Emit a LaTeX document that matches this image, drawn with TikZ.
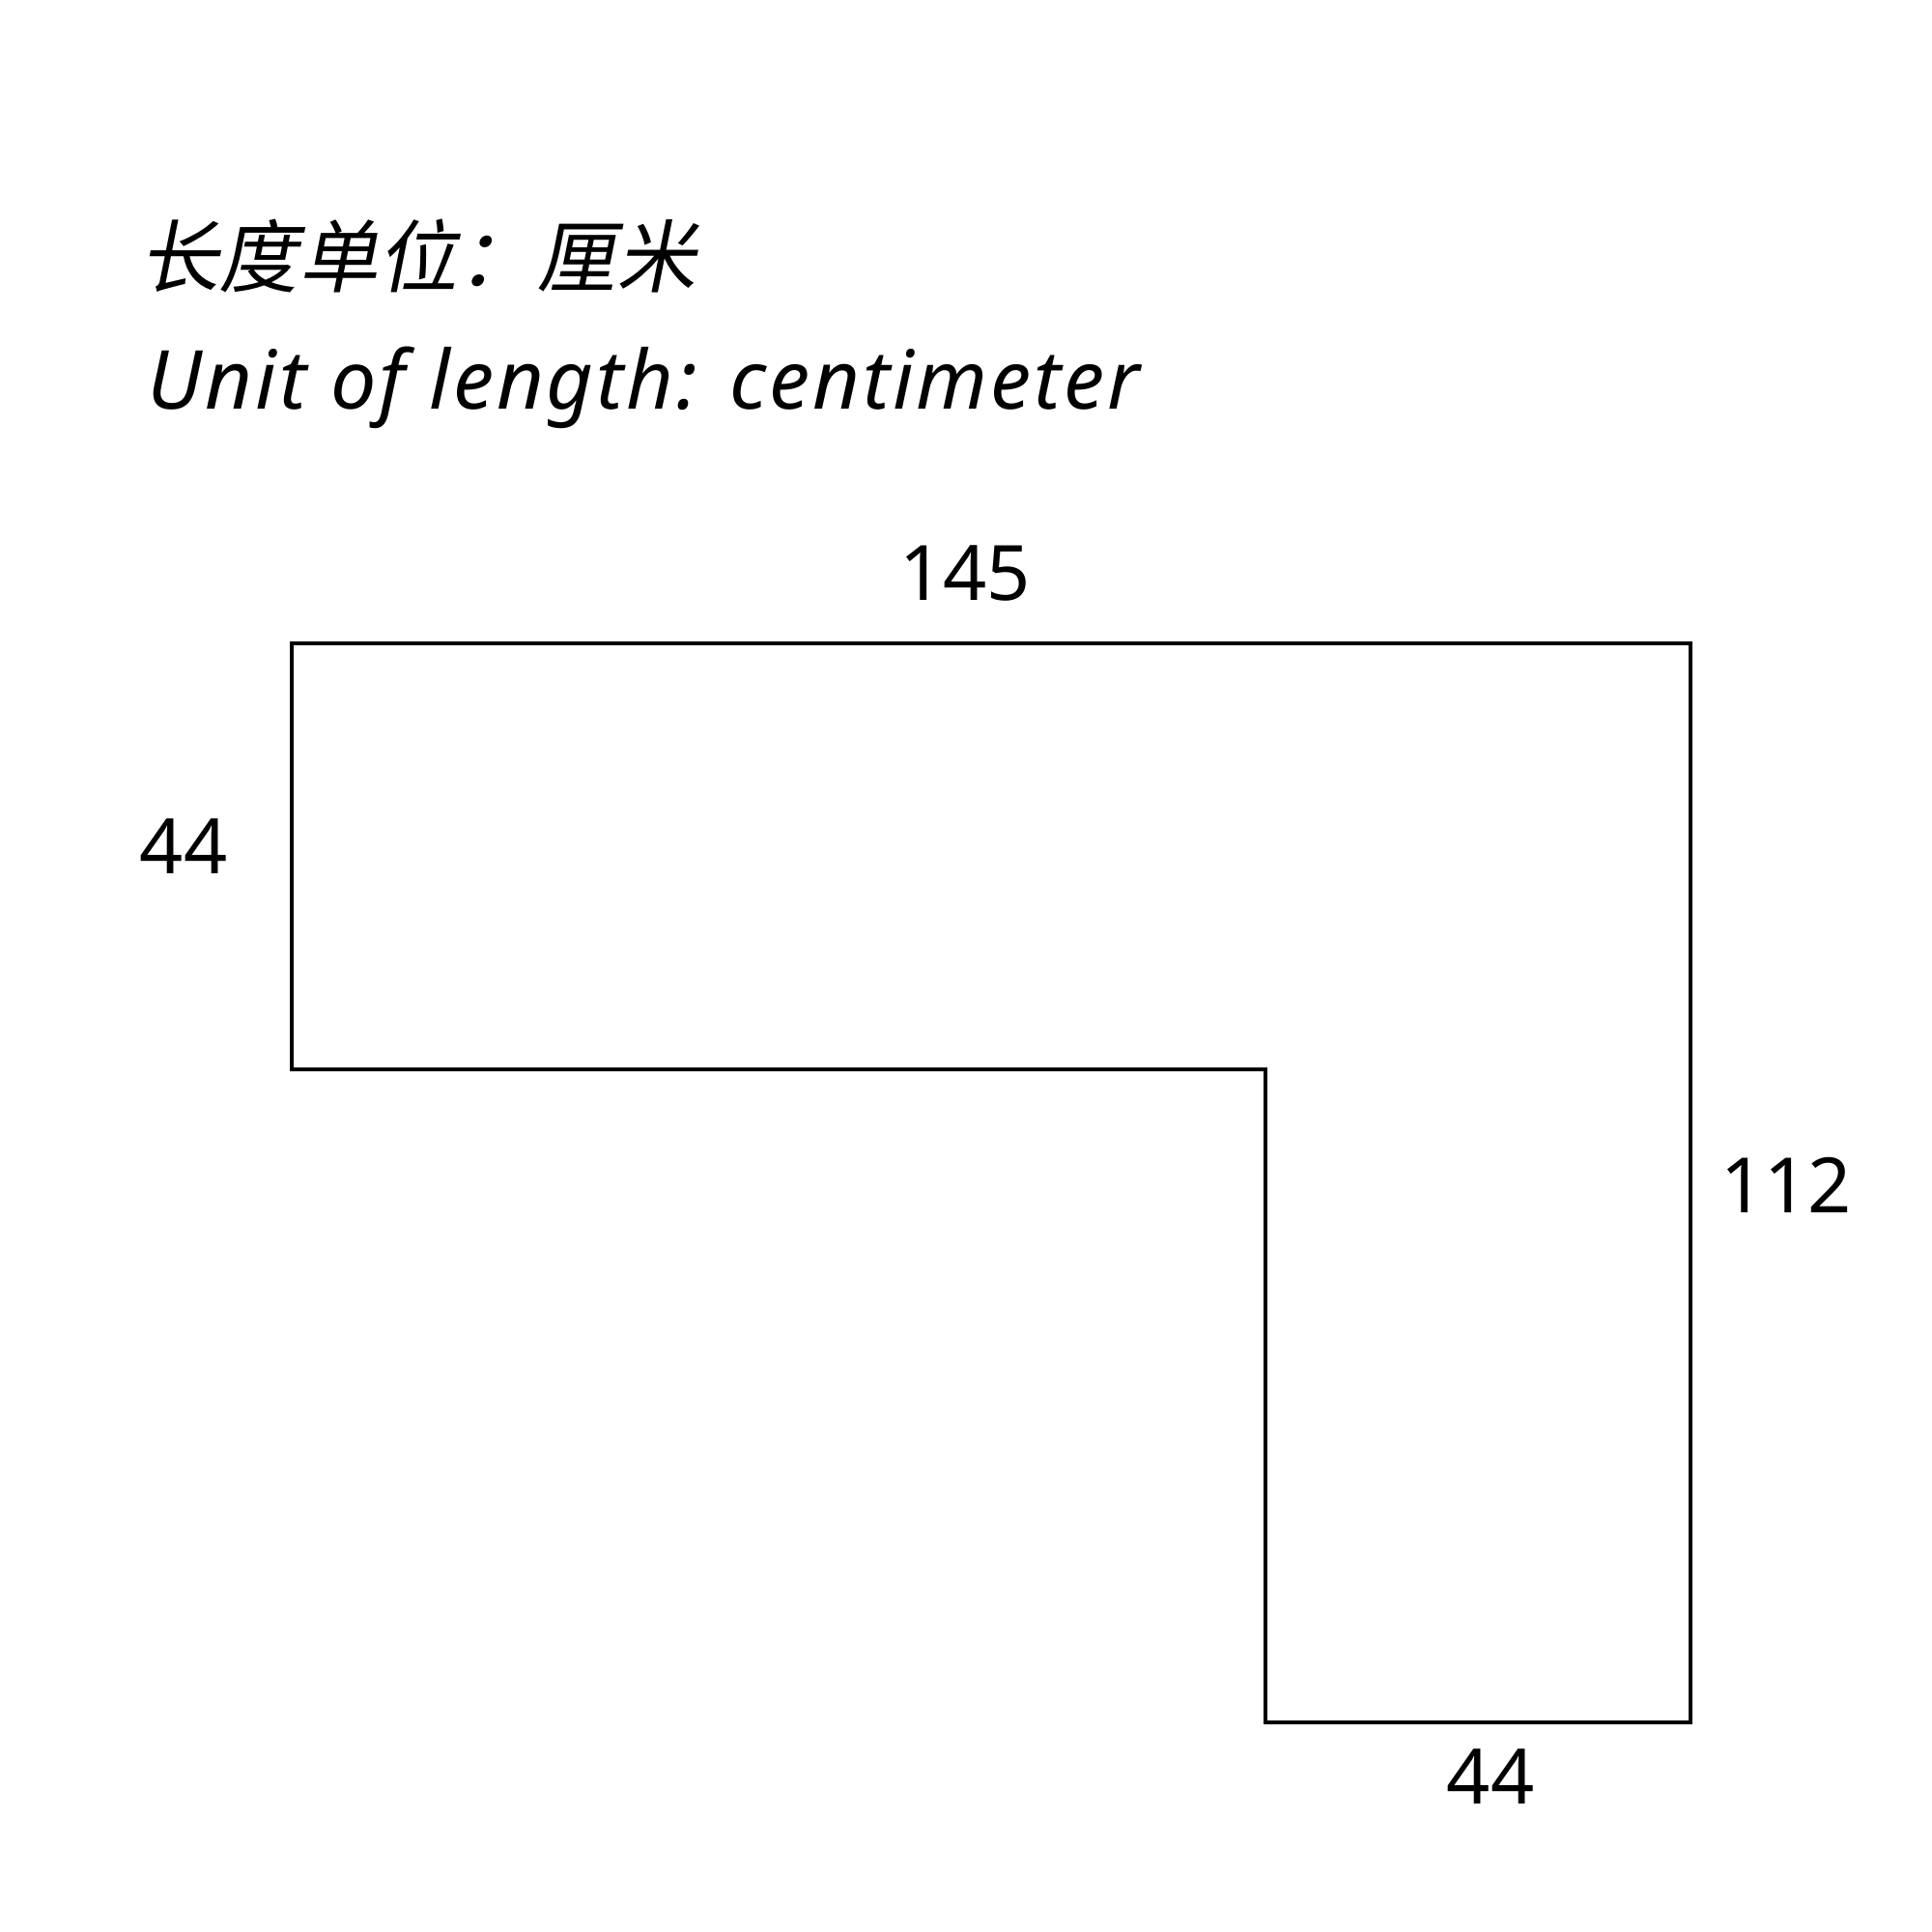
\documentclass[tikz,border=0pt]{standalone}
\usepackage{fontspec}
\setmainfont{Noto Sans}
\newfontfamily\cjk[FakeSlant=0.2]{Noto Sans CJK SC}
\usetikzlibrary{positioning,calc}
\tikzset{
	edge line/.style={draw, line width=1.1pt},
	len label/.style={font=\fontsize{22.5}{27}\selectfont, inner sep=0pt},
	title text/.style={inner sep=0pt, anchor=base west},
}

\begin{document}
\begin{tikzpicture}
		\useasboundingbox (0,0) rectangle (20,20);
		\coordinate (tl) at (3.02,13.34);
		\coordinate (tr) at (17.50,13.34);
		\coordinate (br) at (17.50,2.17);
		\coordinate (bi) at (13.10,2.17);
		\coordinate (mi) at (13.10,8.93);
		\coordinate (ml) at (3.02,8.93);
		\draw[edge line] (tl) -- (tr) -- (br) -- (bi) -- (mi) -- (ml) -- cycle;

		\node[title text, font=\fontsize{23.4}{28}\selectfont] (unitcn) at (1.44,17.03) {\cjk 长度单位：厘米};
		\node[title text, font=\fontsize{24}{28}\selectfont] (uniten) at (1.52,15.76)
			{\addfontfeature{LetterSpace=3.5}\itshape Unit of length: centimeter};

		\node[len label] (top) at (9.99,14.06) {145};
		\node[len label] (left) at (1.90,11.24) {44};
		\node[len label] (right) at (18.49,7.73) {112};
		\node[len label] (bottom) at (15.43,1.61) {44};
\end{tikzpicture}
\end{document}
